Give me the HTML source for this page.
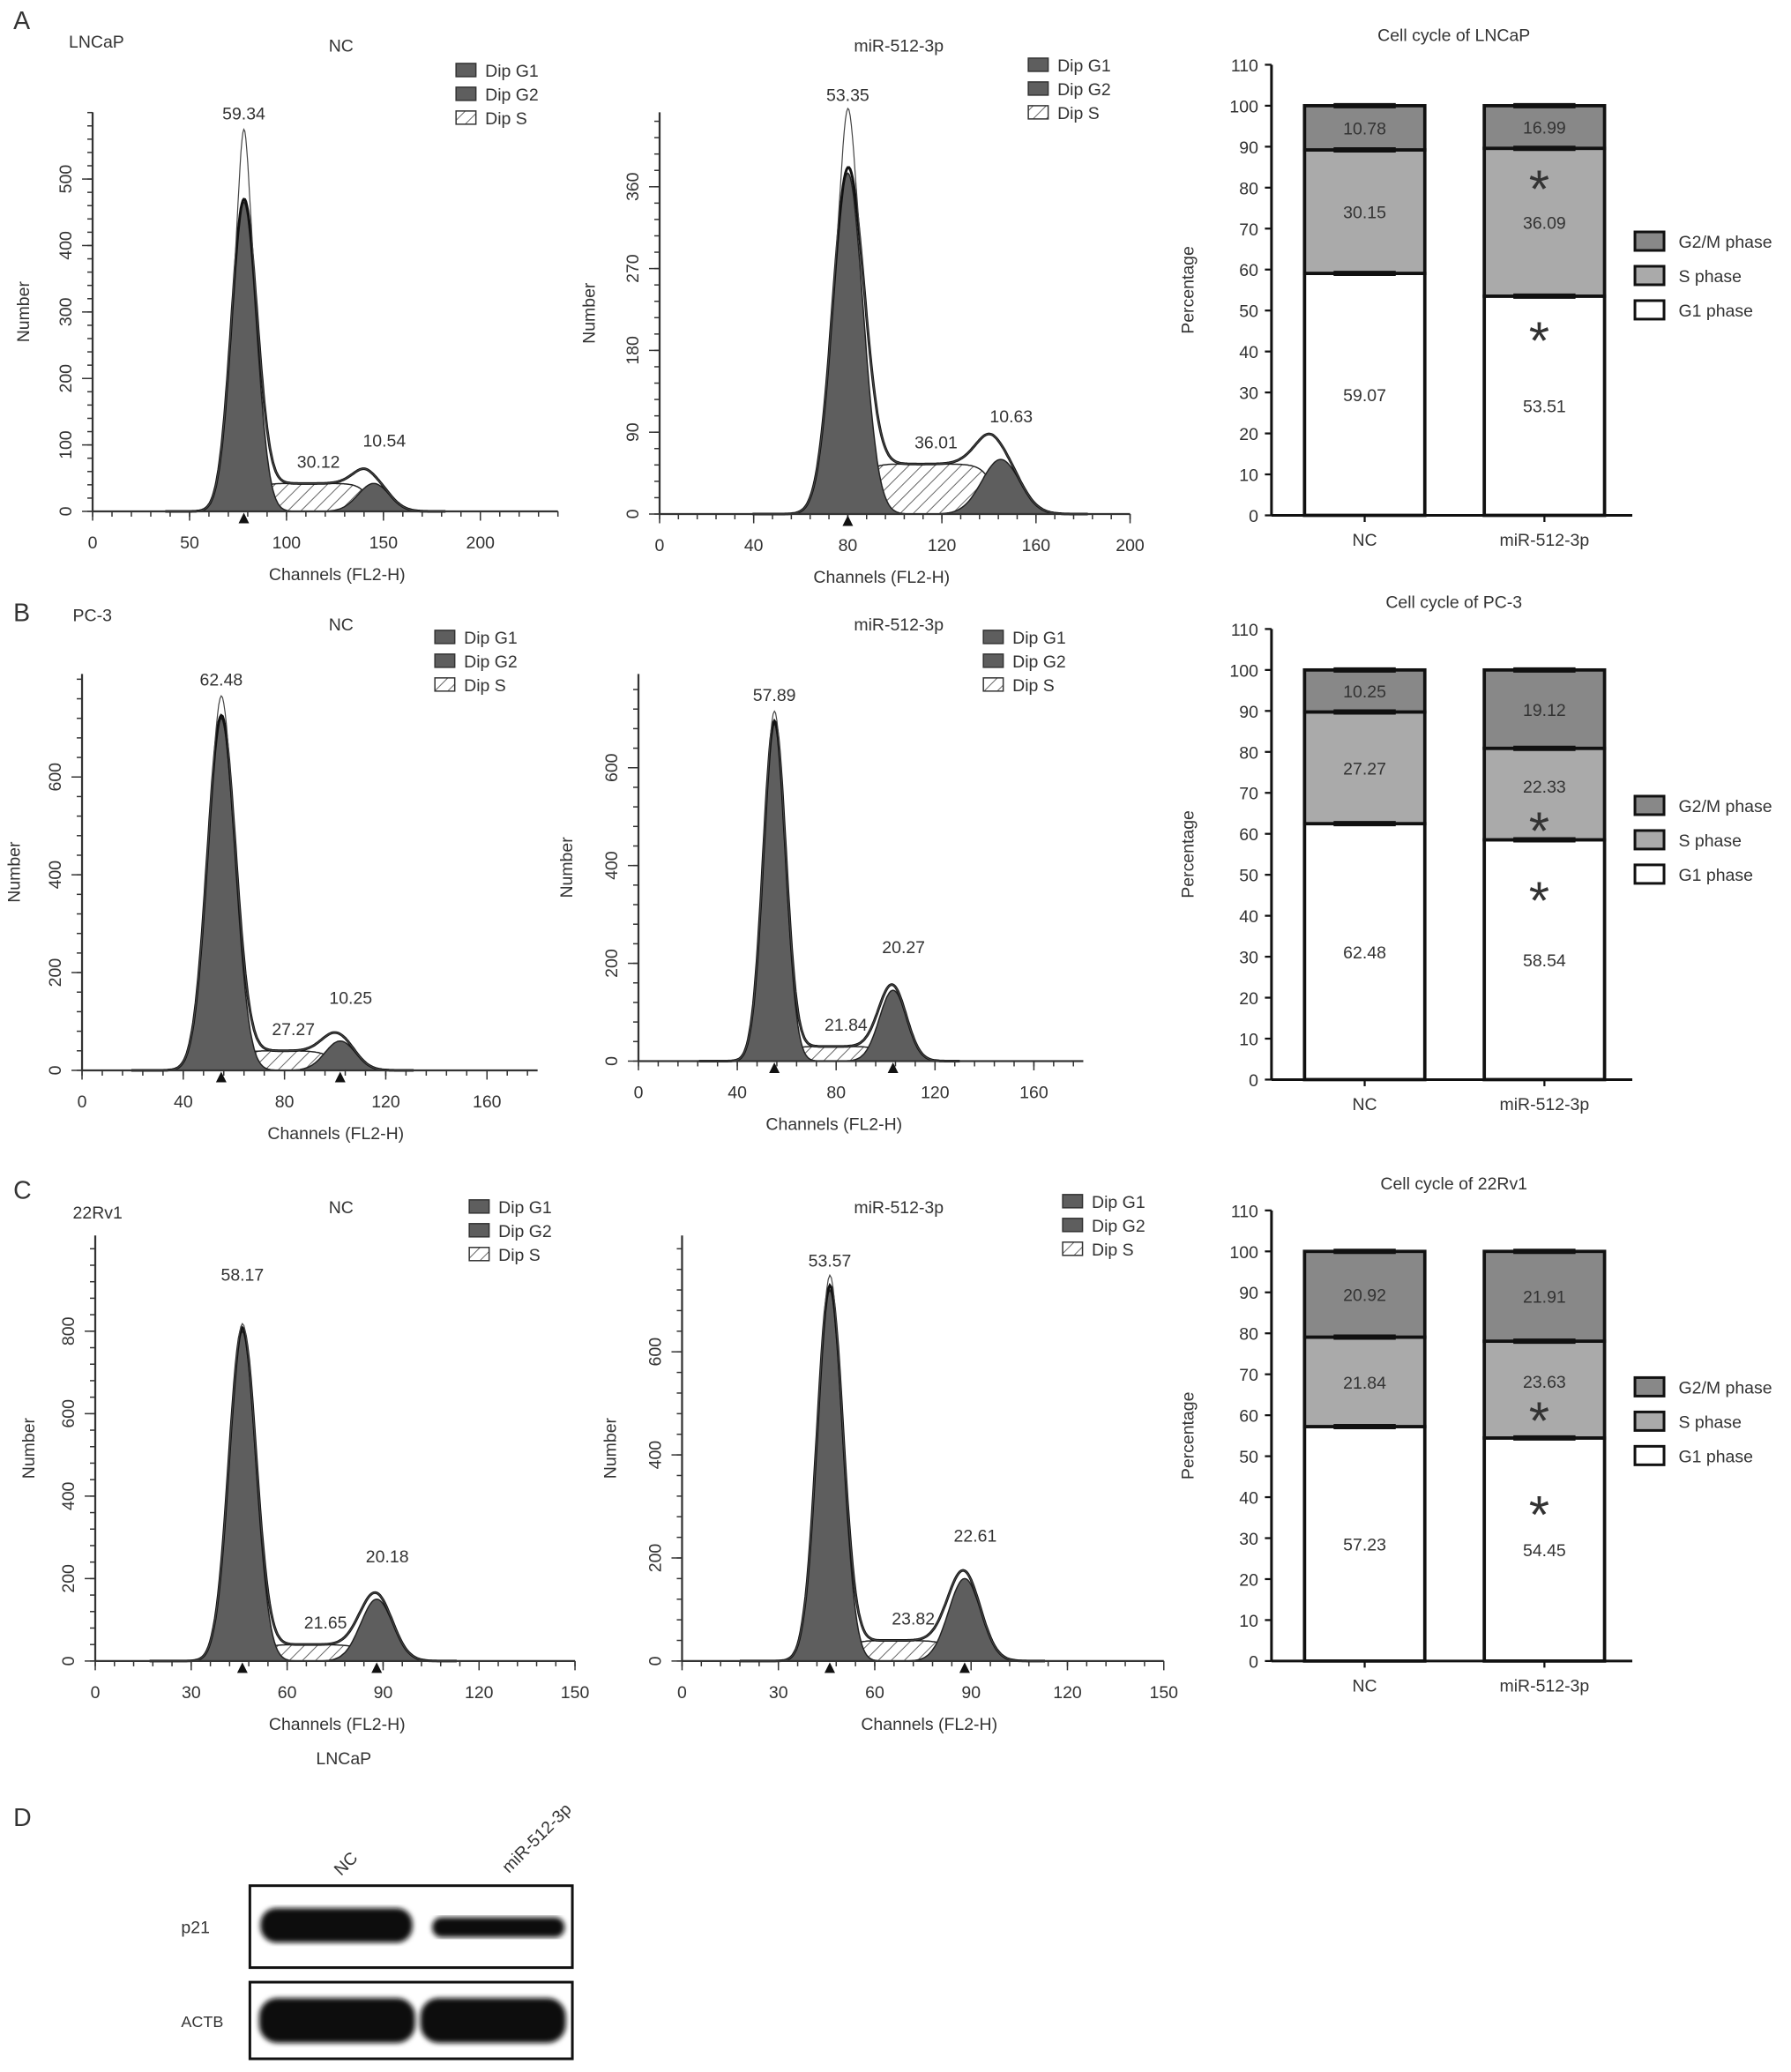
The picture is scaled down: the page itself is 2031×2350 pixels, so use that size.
<!DOCTYPE html>
<html><head><meta charset="utf-8"><style>
html,body{margin:0;padding:0;background:#fff}
svg{display:block;font-family:"Liberation Sans",Arial,sans-serif}
text{fill:#333}
</style></head><body>
<svg id="fig" xmlns="http://www.w3.org/2000/svg" width="2031" height="2350" viewBox="0 0 1355 1568">
<defs>
<pattern id="hatch" patternUnits="userSpaceOnUse" width="7" height="7" patternTransform="rotate(45)">
<rect width="7" height="7" fill="#fff"/><line x1="0" y1="0" x2="0" y2="7" stroke="#555" stroke-width="1.2"/></pattern>
<filter id="blur"><feGaussianBlur stdDeviation="2"/></filter>
</defs>
<g id="root"></g>
</svg>
<script>
// ---- histogram data (channel units / counts) ----
const histNames = ["lncap-nc","lncap-mir","pc3-nc","pc3-mir","22rv1-nc","22rv1-mir"];
const g1Center = [78, 80, 55, 55, 46, 46];
const g1Height = [465, 375, 720, 690, 800, 720];
const g1Spike  = [570, 440, 760, 710, 810, 740];
const g1Width  = [6.5, 6.5, 5.5, 4.5, 4.2, 4];
const g2Center = [145, 145, 102, 103, 88, 88];
const g2Height = [42, 60, 60, 145, 150, 160];
const g2Width  = [8, 8, 6, 5.5, 5, 5];
const sHeight  = [42, 55, 40, 30, 40, 40];
const peakLabels = [["59.34","30.12","10.54"],["53.35","36.01","10.63"],["62.48","27.27","10.25"],["57.89","21.84","20.27"],["58.17","21.65","20.18"],["53.57","23.82","22.61"]];
const xTicks = [[0,50,100,150,200],[0,40,80,120,160,200],[0,40,80,120,160],[0,40,80,120,160],[0,30,60,90,120,150],[0,30,60,90,120,150]];
const yTicks = [[0,100,200,300,400,500],[0,90,180,270,360],[0,200,400,600],[0,200,400,600],[0,200,400,600,800],[0,200,400,600]];
// ---- stacked bar data (%) ----
const barGroups = ["NC","miR-512-3p"];
const barTitles = ["Cell cycle of LNCaP","Cell cycle of PC-3","Cell cycle of 22Rv1"];
const g1Pct = [[59.07,53.51],[62.48,58.54],[57.23,54.45]];
const sPct  = [[30.15,36.09],[27.27,22.33],[21.84,23.63]];
const g2Pct = [[10.78,16.99],[10.25,19.12],[20.92,21.91]];
const barTicks = [0,10,20,30,40,50,60,70,80,90,100,110];
const starG1 = [46, 47, 39];
const starS  = [83, 64, 62];

const NS="http://www.w3.org/2000/svg";
const root=document.getElementById('root');
function el(tag,attrs,parent,txt){const e=document.createElementNS(NS,tag);for(const k in attrs)e.setAttribute(k,attrs[k]);if(txt!==undefined)e.textContent=txt;(parent||root).appendChild(e);return e;}

const hLayout=[
 {x0:70,xs:1.467,y0:387,ys:0.503,top:85,xmax:240,leg:[345,48],title:[258,39],ytxt:22,xt:255},
 {x0:499,xs:1.78,y0:389,ys:0.688,top:85,xmax:200,leg:[778,44],title:[680,39],ytxt:450,xt:667},
 {x0:62,xs:1.915,y0:810,ys:0.37,top:510,xmax:180,leg:[329,477],title:[258,477],ytxt:15,xt:254},
 {x0:483,xs:1.87,y0:803,ys:0.37,top:510,xmax:180,leg:[744,477],title:[680,477],ytxt:433,xt:631},
 {x0:72,xs:2.42,y0:1257,ys:0.312,top:935,xmax:150,leg:[355,908],title:[258,918],ytxt:26,xt:255},
 {x0:516,xs:2.43,y0:1257,ys:0.39,top:935,xmax:150,leg:[804,904],title:[680,918],ytxt:466,xt:703}
];
const gauss=(x,c,w)=>Math.exp(-0.5*((x-c)/w)**2);
function sProf(i,x){const a=g1Center[i],b=g2Center[i];const up=1/(1+Math.exp(-(x-a-g1Width[i]*0.8)/2.5));const dn=1/(1+Math.exp((x-b+g2Width[i]*0.3)/3));return sHeight[i]*up*dn;}

histNames.forEach((nm,i)=>{
 const L=hLayout[i];
 const g=el('g',{});
 
 
 const X=v=>L.x0+v*L.xs, Y=v=>L.y0-v*L.ys;
 const xmin=g1Center[i]-5*g1Width[i]-8, xmx=g2Center[i]+4*g2Width[i]+5;
 const pts=f=>{let s=[];for(let x=xmin;x<=xmx;x+=0.5)s.push(X(x).toFixed(1)+','+Y(f(x)).toFixed(1));return s;};
 const area=(f,cls)=>el('path',{d:'M'+X(xmin)+','+L.y0+' L'+pts(f).join(' L')+' L'+X(xmx)+','+L.y0+'Z',fill:cls,stroke:'#222','stroke-width':1},g);
 const s=area(x=>sProf(i,x),'url(#hatch)');  
 const a1=area(x=>g1Height[i]*gauss(x,g1Center[i],g1Width[i]),'#5e5e5e');  
 const a2=area(x=>g2Height[i]*gauss(x,g2Center[i],g2Width[i]),'#5e5e5e');  
 const tot=x=>g1Height[i]*gauss(x,g1Center[i],g1Width[i])+g2Height[i]*gauss(x,g2Center[i],g2Width[i])+sProf(i,x);
 const ln=el('polyline',{points:pts(tot).join(' '),fill:'none',stroke:'#111','stroke-width':2},g);  
 const raw=x=>tot(x)+(g1Spike[i]-g1Height[i])*gauss(x,g1Center[i],g1Width[i]*0.35);
 const rl=el('polyline',{points:pts(raw).join(' '),fill:'none',stroke:'#444','stroke-width':0.8},g);  
 el('line',{x1:L.x0,y1:L.y0,x2:X(L.xmax),y2:L.y0,stroke:'#333','stroke-width':1.5},g);
 el('line',{x1:L.x0,y1:L.y0,x2:L.x0,y2:L.top,stroke:'#333','stroke-width':1.5},g);
 const xt=xTicks[i], xstep=(xt[1]-xt[0])/5;
 for(let v=0;v<=L.xmax+0.01;v+=xstep) el('line',{x1:X(v),y1:L.y0,x2:X(v),y2:L.y0+4,stroke:'#333'},g);
 xt.forEach(v=>{el('line',{x1:X(v),y1:L.y0,x2:X(v),y2:L.y0+7,stroke:'#333'},g);const t=el('text',{x:X(v),y:L.y0+28,'text-anchor':'middle','font-size':13},g,v);});
 const yt=yTicks[i], ystep=(yt[1]-yt[0])/5;
 for(let v=0;Y(v)>=L.top;v+=ystep) el('line',{x1:L.x0,y1:Y(v),x2:L.x0-4,y2:Y(v),stroke:'#333'},g);
 yt.forEach(v=>{el('line',{x1:L.x0,y1:Y(v),x2:L.x0-8,y2:Y(v),stroke:'#333'},g);const t=el('text',{x:L.x0-16,y:Y(v),'text-anchor':'middle','font-size':13,transform:`rotate(-90 ${L.x0-16} ${Y(v)})`},g,v);});
 [g1Center[i],g2Center[i]].forEach((c,k)=>{if(i<2&&k==1)return;el('path',{d:`M${X(c)-4},${L.y0+9} L${X(c)+4},${L.y0+9} L${X(c)},${L.y0+1}Z`,fill:'#111'},g);});
 const lp=[[g1Center[i],g1Spike[i]],[(g1Center[i]+g2Center[i])/2+5,0],[g2Center[i],g2Height[i]]];
 peakLabels[i].forEach((t,k)=>{const yy=k==0?Y(lp[k][1])-10-(i==4?25:0):(k==1?Y(sHeight[i])-12:Y(lp[k][1])-28);const xx=k==2?X(lp[k][0])+8:X(lp[k][0]);const e=el('text',{x:xx,y:yy,'text-anchor':'middle','font-size':13},g,t);});
 const xa=el('text',{x:L.xt,y:L.y0+52,'text-anchor':'middle','font-size':13},g,'Channels (FL2-H)');
 const ya=el('text',{x:L.ytxt,y:(L.y0+L.top)/2,'text-anchor':'middle','font-size':13,transform:`rotate(-90 ${L.ytxt} ${(L.y0+L.top)/2})`},g,'Number');
 const ti=el('text',{x:L.title[0],y:L.title[1],'text-anchor':'middle','font-size':13},g,i%2?'miR-512-3p':'NC');
 ['Dip G1','Dip G2','Dip S'].forEach((t,k)=>{const ly=L.leg[1]+k*18;el('rect',{x:L.leg[0],y:ly,width:15,height:10,fill:k<2?'#5e5e5e':'url(#hatch)',stroke:'#333'},g);const e=el('text',{x:L.leg[0]+22,y:ly+10,'font-size':13},g,t);});
});

const bLayout=[{y0:390,top:49,title:31},{y0:817,top:476,title:460},{y0:1257,top:916,title:900}];
bLayout.forEach((L,p)=>{
 const g=el('g',{});
 
 
 const ax=962, ys=(L.y0-L.top)/110, Y=v=>L.y0-v*ys;
 const bx=[987,1123], bw=91;
 barGroups.forEach((name,j)=>{
  const a=g1Pct[p][j], b=sPct[p][j], c=g2Pct[p][j];
  const sTop=Math.min(100,a+b);
  const segs=[[0,a,'#fff','g1'],[a,sTop,'#aaa','s'],[sTop,100,'#888','g2']];
  segs.forEach(sg=>{const r=el('rect',{x:bx[j],y:Y(sg[1]),width:bw,height:Y(sg[0])-Y(sg[1]),fill:sg[2],stroke:'#111','stroke-width':2.5},g);});
  [a,sTop,100].forEach(v=>{el('line',{x1:bx[j]+22,x2:bx[j]+bw-22,y1:Y(v),y2:Y(v),stroke:'#111','stroke-width':4},g);});
  const cx=bx[j]+bw/2;
  [[a/2,a],[(a+sTop)/2+(j&&p?2:0),b],[(sTop+100)/2,c]].forEach(q=>{const t=el('text',{x:cx,y:Y(q[0])+5,'text-anchor':'middle','font-size':13},g,q[1].toFixed(2));});
  if(j==1){[starG1[p],starS[p]].forEach(v=>{const t=el('text',{x:cx-4,y:Y(v)+24,'text-anchor':'middle','font-size':40},g,'*');});}
  el('line',{x1:cx,x2:cx,y1:L.y0,y2:L.y0+5,stroke:'#111','stroke-width':1.5},g);
  const xl=el('text',{x:cx,y:L.y0+23,'text-anchor':'middle','font-size':13},g,name);
 });
 el('line',{x1:ax,y1:L.y0,x2:1235,y2:L.y0,stroke:'#111','stroke-width':2},g);
 el('line',{x1:ax,y1:L.y0,x2:ax,y2:L.top,stroke:'#111','stroke-width':2},g);
 barTicks.forEach(v=>{el('line',{x1:ax-5,x2:ax,y1:Y(v),y2:Y(v),stroke:'#111','stroke-width':1.5},g);const t=el('text',{x:ax-10,y:Y(v)+5,'text-anchor':'end','font-size':13},g,v);});
 const ya=el('text',{x:903,y:(L.y0+L.top)/2,'text-anchor':'middle','font-size':13,transform:`rotate(-90 903 ${(L.y0+L.top)/2})`},g,'Percentage');
 const ti=el('text',{x:1100,y:L.title,'text-anchor':'middle','font-size':13},g,barTitles[p]);
 const ly0=Y(65)-5;
 [['G2/M phase','#888'],['S phase','#aaa'],['G1 phase','#fff']].forEach((q,k)=>{const yy=ly0+k*26;el('rect',{x:1237,y:yy-8,width:22,height:14,fill:q[1],stroke:'#111','stroke-width':2},g);const t=el('text',{x:1270,y:yy+4,'font-size':13},g,q[0]);});
});

[['A',10,22],['B',10,470],['C',10,907],['D',10,1382]].forEach(q=>{const t=el('text',{x:q[1],y:q[2],'font-size':19},root,q[0]);});
[['LNCaP',52,36],['PC-3',55,470],['22Rv1',55,922],['LNCaP',260,1335]].forEach(q=>{const t=el('text',{x:q[1],y:q[2],'font-size':13,'text-anchor':q[1]==260?'middle':'start'},root,q[0]);});

const wb=el('g',{});


el('text',{x:258,y:1420,'font-size':13,transform:'rotate(-45 258 1420)'},wb,'NC');
el('text',{x:385,y:1418,'font-size':13,transform:'rotate(-45 385 1418)'},wb,'miR-512-3p');
const b1=el('rect',{x:189,y:1427,width:244,height:62,fill:'#fff',stroke:'#111','stroke-width':2},wb);
const b2=el('rect',{x:189,y:1500,width:244,height:58,fill:'#fff',stroke:'#111','stroke-width':2},wb);
el('rect',{x:197,y:1444,width:115,height:26,rx:12,fill:'#0a0a0a',filter:'url(#blur)'},wb);
el('rect',{x:327,y:1451,width:100,height:15,rx:7,fill:'#111',filter:'url(#blur)'},wb);
el('rect',{x:196,y:1512,width:118,height:34,rx:14,fill:'#0a0a0a',filter:'url(#blur)'},wb);
el('rect',{x:318,y:1512,width:110,height:34,rx:14,fill:'#0a0a0a',filter:'url(#blur)'},wb);
el('text',{x:137,y:1463,'font-size':13},wb,'p21');
el('text',{x:137,y:1534,'font-size':12},wb,'ACTB');
</script>
</body></html>
